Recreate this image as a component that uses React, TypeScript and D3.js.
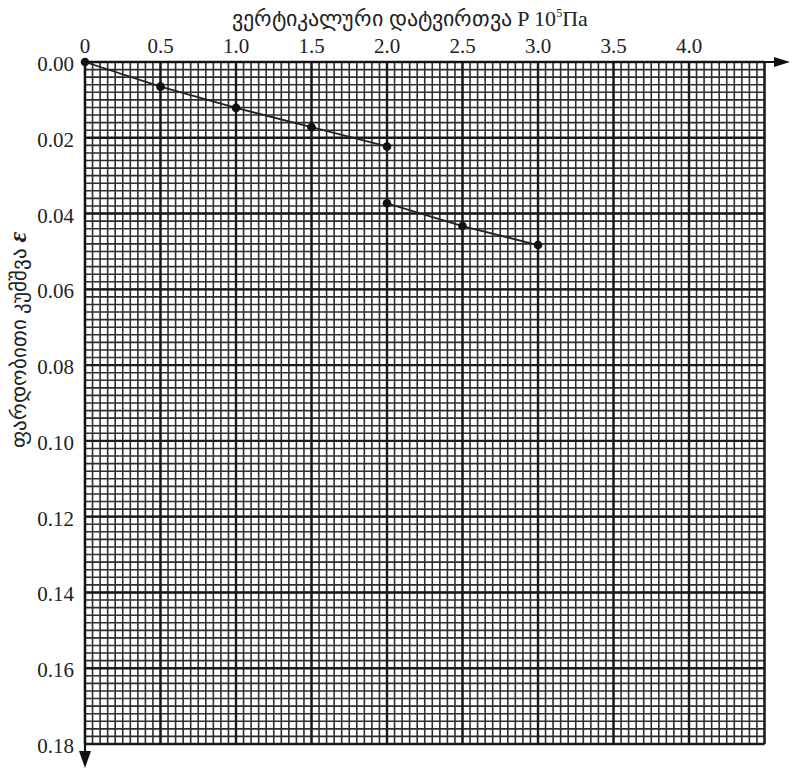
import React from "react";
import * as d3 from "d3";

const pressure = [0, 0.5, 1.0, 1.5, 2.0, 2.0, 2.5, 3.0];
const strain = [0, 0.0065, 0.0121, 0.0172, 0.0223, 0.0373, 0.0433, 0.0483];
const xTickValues = [0, 0.5, 1.0, 1.5, 2.0, 2.5, 3.0, 3.5, 4.0];
const xTickLabels = ["0", "0.5", "1.0", "1.5", "2.0", "2.5", "3.0", "3.5", "4.0"];
const yTickValues = [0, 0.02, 0.04, 0.06, 0.08, 0.1, 0.12, 0.14, 0.16, 0.18];
const yTickLabels = ["0.00", "0.02", "0.04", "0.06", "0.08", "0.10", "0.12", "0.14", "0.16", "0.18"];
const xTitle = "ვერტიკალური  დატვირთვა P 10";
const yTitle = "ფარდობითი  კუმშვა ";

const W = 793;
const H = 770;
const FONT = "'Liberation Serif', 'Times New Roman', Times, serif";

export default function App() {
  const x = d3.scaleLinear().domain([0, 4.5]).range([85, 764.5]);
  const y = d3.scaleLinear().domain([0, 0.18]).range([62, 744]);

  const minorX = d3.range(0, 91).map((i) => i * 0.05);
  const minorY = d3.range(0, 91).map((i) => i * 0.002);
  const majorX = d3.range(0, 10).map((i) => i * 0.5);
  const majorY = d3.range(0, 10).map((i) => i * 0.02);

  const pts = pressure.map((p, i) => [x(p), y(strain[i])] as [number, number]);
  const line = d3.line()(pts) || "";

  const [x0, x1] = x.range();
  const [y0, y1] = y.range();

  return (
    <svg
      width={W}
      height={H}
      style={{ position: "absolute", left: 0, top: 0, background: "#fff", fontFamily: FONT }}
    >
      <rect x={0} y={0} width={W} height={H} fill="#fff" />
      {/* minor grid */}
      <g stroke="#2e2e2e" strokeWidth={1.6}>
        {minorX.map((v, i) => (
          <line key={"mx" + i} x1={x(v)} x2={x(v)} y1={y0} y2={y1} />
        ))}
        {minorY.map((v, i) => (
          <line key={"my" + i} x1={x0} x2={x1} y1={y(v)} y2={y(v)} />
        ))}
      </g>
      {/* major grid */}
      <g stroke="#1a1a1a" strokeWidth={2.4}>
        {majorX.map((v, i) => (
          <line key={"Mx" + i} x1={x(v)} x2={x(v)} y1={y0} y2={y1} />
        ))}
        {majorY.map((v, i) => (
          <line key={"My" + i} x1={x0} x2={x1} y1={y(v)} y2={y(v)} />
        ))}
      </g>
      {/* axes with arrows */}
      <g stroke="#111" strokeWidth={2.2}>
        <line x1={x0} x2={778} y1={y0} y2={y0} />
        <line x1={x0} x2={x0} y1={y0} y2={756} />
      </g>
      <path d={`M790,${y0} L774,${y0 - 5} L774,${y0 + 5} Z`} fill="#111" />
      <path d={`M${x0},768 L${x0 - 6},751 L${x0 + 6},751 Z`} fill="#111" />
      {/* data */}
      <path d={line} fill="none" stroke="#222" strokeWidth={1.8} />
      {pts.map((p, i) => (
        <circle key={"p" + i} cx={p[0]} cy={p[1]} r={4.3} fill="#111" />
      ))}
      {/* x tick labels */}
      <g fontSize={21} fill="#222" textAnchor="middle">
        {xTickValues.map((v, i) => (
          <text key={"xt" + i} x={x(v)} y={53}>
            {xTickLabels[i]}
          </text>
        ))}
      </g>
      {/* y tick labels */}
      <g fontSize={21} fill="#222" textAnchor="end">
        {yTickValues.map((v, i) => (
          <text key={"yt" + i} x={74} y={y(v) + 9}>
            {yTickLabels[i]}
          </text>
        ))}
      </g>
      {/* x title */}
      <text x={410} y={26} fontSize={22} fill="#222" textAnchor="middle">
        {xTitle}
        <tspan fontSize={12} dy={-9}>5</tspan>
        <tspan dy={9}>Па</tspan>
      </text>
      {/* y title */}
      <text
        transform="translate(26,340) rotate(-90)"
        fontSize={21}
        fill="#222"
        textAnchor="middle"
      >
        {yTitle}
        <tspan fontSize={26} fontWeight="bold" fontStyle="italic">ε</tspan>
      </text>
    </svg>
  );
}
